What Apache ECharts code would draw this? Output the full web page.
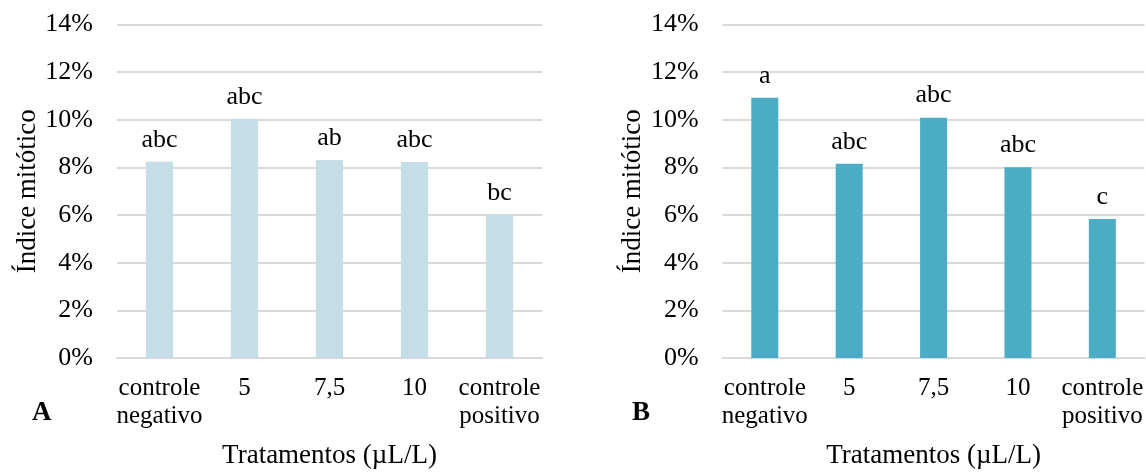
<!DOCTYPE html>
<html>
<head>
<meta charset="utf-8">
<script src="https://cdn.jsdelivr.net/npm/echarts@6/dist/echarts.min.js"></script>
<style>
html,body{margin:0;padding:0;background:#fff;}
#chart{width:1146px;height:474px;}
</style>
</head>
<body>
<div id="chart"></div>
<script>
var categories = ['controle\nnegativo', '5', '7,5', '10', 'controle\npositivo'];
var valuesA = [8.24, 10.04, 8.31, 8.23, 6.0];
var lettersA = ['abc', 'abc', 'ab', 'abc', 'bc'];
var valuesB = [10.92, 8.15, 10.09, 8.01, 5.83];
var lettersB = ['a', 'abc', 'abc', 'abc', 'c'];
var panelLabels = ['A', 'B'];
var xName = 'Tratamentos (\u00b5L/L)';
var yName = '\u00cdndice mit\u00f3tico';

var FONT = 'Liberation Serif, Times New Roman, serif';
var chart = echarts.init(document.getElementById('chart'), null, {renderer: 'canvas'});

function xAxis(gi) {
  return {
    type: 'category', gridIndex: gi, data: categories,
    axisLine: {show: true, lineStyle: {color: '#D9D9D9', width: 2}},
    axisTick: {show: false},
    axisLabel: {color: '#000', fontFamily: FONT, fontSize: 25, lineHeight: 28, margin: 16, interval: 0},
    name: xName, nameLocation: 'middle', nameGap: 84,
    nameTextStyle: {color: '#000', fontFamily: FONT, fontSize: 27}
  };
}
function yAxis(gi) {
  return {
    type: 'value', gridIndex: gi, min: 0, max: 14, interval: 2,
    axisLine: {show: false}, axisTick: {show: false},
    splitLine: {show: true, lineStyle: {color: '#D9D9D9', width: 2}},
    axisLabel: {color: '#000', fontFamily: FONT, fontSize: 26, margin: 24, formatter: function (v) { return v + '%'; }},
    name: yName, nameLocation: 'middle', nameGap: 76,
    nameTextStyle: {color: '#000', fontFamily: FONT, fontSize: 27}
  };
}
function series(gi, vals, letters, color) {
  return {
    type: 'bar', xAxisIndex: gi, yAxisIndex: gi, data: vals, barWidth: '32%',
    itemStyle: {color: color},
    label: {show: true, position: 'top', distance: 9, color: '#000', fontFamily: FONT, fontSize: 26,
      formatter: function (p) { return letters[p.dataIndex]; }}
  };
}

chart.setOption({
  animation: false,
  backgroundColor: '#fff',
  grid: [
    {left: 117, top: 24.5, width: 425, height: 341.5},
    {left: 722.6, top: 24.5, width: 425, height: 341.5}
  ],
  xAxis: [xAxis(0), xAxis(1)],
  yAxis: [yAxis(0), yAxis(1)],
  series: [series(0, valuesA, lettersA, '#C4DDE6'), series(1, valuesB, lettersB, '#4BACC6')],
  graphic: [
    {type: 'text', left: 32, top: 400, style: {text: panelLabels[0], font: 'bold 27px ' + FONT, fill: '#000'}},
    {type: 'text', left: 632, top: 400, style: {text: panelLabels[1], font: 'bold 27px ' + FONT, fill: '#000'}}
  ]
});
</script>
</body>
</html>
